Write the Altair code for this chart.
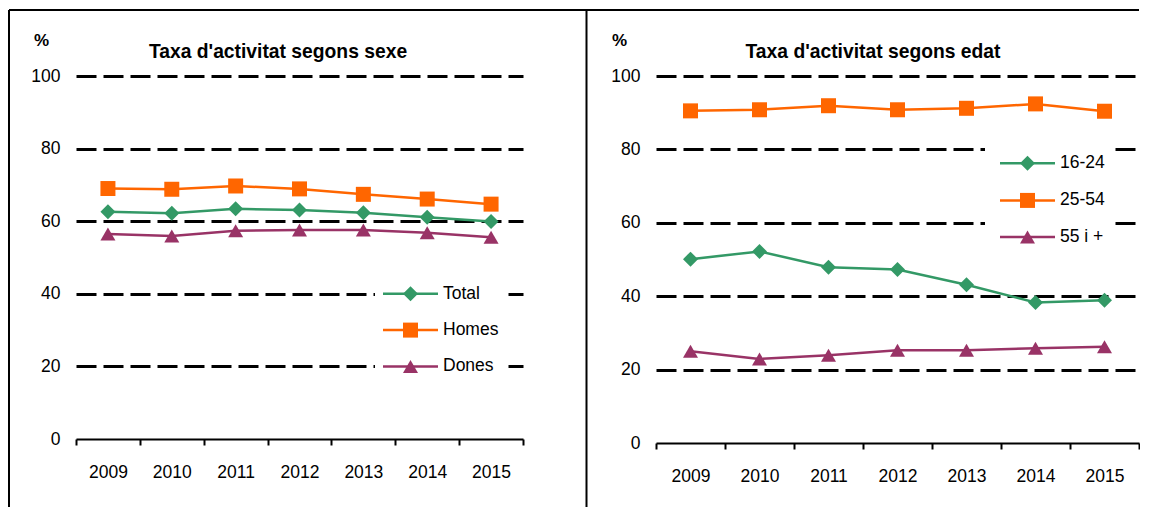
import altair as alt
import pandas as pd

# ---------------- data ----------------
YEARS = ["2009", "2010", "2011", "2012", "2013", "2014", "2015"]
Y_TICKS = [0, 20, 40, 60, 80, 100]

SEX_SERIES = ["Total", "Homes", "Dones"]
SEX_TOTAL = [62.6, 62.2, 63.4, 63.1, 62.3, 61.1, 59.9]
SEX_HOMES = [69.0, 68.8, 69.7, 68.9, 67.4, 66.1, 64.7]
SEX_DONES = [56.5, 55.9, 57.4, 57.6, 57.6, 56.8, 55.6]

AGE_SERIES = ["16-24", "25-54", "55 i +"]
AGE_16_24 = [50.1, 52.2, 47.9, 47.3, 43.1, 38.3, 38.9]
AGE_25_54 = [90.5, 90.8, 91.9, 90.8, 91.2, 92.4, 90.4]
AGE_55 = [25.0, 22.9, 23.9, 25.3, 25.3, 25.8, 26.2]

TITLE_SEX = "Taxa d'activitat segons sexe"
TITLE_AGE = "Taxa d'activitat segons edat"
Y_UNIT = "%"

# ---------------- style ----------------
COLORS = ["#339966", "#FF6600", "#993366"]
SHAPES = ["diamond", "square", "triangle-up"]
FONT = "Liberation Sans, Arial, sans-serif"
LBL = 17.5


def long_df(names, arrays):
    rows = []
    for n, arr in zip(names, arrays):
        for yr, v in zip(YEARS, arr):
            rows.append({"serie": n, "any": yr, "valor": v})
    return pd.DataFrame(rows)


def panel(names, arrays, title, width, height, unit_x, title_x,
          leg_rows, leg_box, leg_x, borders):
    df = long_df(names, arrays)
    cscale = alt.Scale(domain=names, range=COLORS)
    sscale = alt.Scale(domain=names, range=SHAPES)

    x_enc = alt.X(
        "any:O", sort=YEARS,
        scale=alt.Scale(type="band", paddingInner=0, paddingOuter=0),
        axis=alt.Axis(title=None, labelAngle=0, domain=True, domainColor="black",
                      domainWidth=2, ticks=True, tickBand="extent", tickColor="black",
                      tickWidth=2, tickSize=6, labelPadding=18.5, labelFontSize=LBL,
                      labelColor="black", labelFont=FONT, grid=False),
    )
    y_enc = alt.Y(
        "valor:Q",
        scale=alt.Scale(domain=[0, 100], nice=False, zero=True),
        axis=alt.Axis(values=Y_TICKS, title=Y_UNIT, titleAngle=0, titleX=unit_x,
                      titleY=-36, titleFontSize=17, titleFontWeight="bold",
                      titleFont=FONT, titleColor="black", titleAlign="center",
                      titleBaseline="middle", domain=False, ticks=False, tickSize=0,
                      labelPadding=16, labelFontSize=LBL, labelColor="black",
                      labelFont=FONT, grid=True, gridColor="black", gridWidth=3,
                      gridDash=[20, 7],
                      gridOpacity={"condition": {"test": "datum.value === 0", "value": 0},
                                   "value": 1}),
    )

    one = pd.DataFrame({"k": [0]})
    layers = []
    # cell borders
    for b in borders:
        enc = {k: alt.value(v) for k, v in b.items()}
        layers.append(alt.Chart(one).mark_rule(color="black", strokeWidth=2).encode(**enc))

    base = alt.Chart(df)
    lines = base.mark_line(strokeWidth=2.5).encode(
        x=x_enc, y=y_enc,
        color=alt.Color("serie:N", scale=cscale, legend=None),
        detail="serie:N",
    )
    points = base.mark_point(filled=True, opacity=1, size=225, strokeWidth=0).encode(
        x=alt.X("any:O", sort=YEARS),
        y=alt.Y("valor:Q"),
        color=alt.Color("serie:N", scale=cscale, legend=None),
        shape=alt.Shape("serie:N", scale=sscale, legend=None),
    )

    # legend built from the series names
    leg = pd.DataFrame({"serie": names, "ly": leg_rows})
    box = pd.DataFrame({"y1": [leg_box[2]], "y2": [leg_box[3]]})
    box_l = alt.Chart(box).mark_rect(color="white").encode(
        x=alt.value(leg_box[0]), x2=alt.value(leg_box[1]),
        y=alt.Y("y1:Q"), y2="y2:Q")
    lbase = alt.Chart(leg)
    leg_line = lbase.mark_rule(strokeWidth=2.5).encode(
        x=alt.value(leg_x[0]), x2=alt.value(leg_x[1]), y=alt.Y("ly:Q"),
        color=alt.Color("serie:N", scale=cscale, legend=None))
    leg_pt = lbase.mark_point(filled=True, opacity=1, size=225, strokeWidth=0).encode(
        x=alt.value((leg_x[0] + leg_x[1]) / 2), y=alt.Y("ly:Q"),
        color=alt.Color("serie:N", scale=cscale, legend=None),
        shape=alt.Shape("serie:N", scale=sscale, legend=None))
    leg_txt = lbase.mark_text(align="left", baseline="middle", fontSize=LBL,
                              font=FONT, color="black").encode(
        x=alt.value(leg_x[1] + 5), y=alt.Y("ly:Q"), text="serie:N")

    ttl = alt.Chart(pd.DataFrame({"t": [title]})).mark_text(
        align="center", baseline="middle", fontSize=19.3, fontWeight="bold",
        font=FONT, color="black").encode(
        x=alt.value(title_x), y=alt.value(-24), text="t:N")

    layers += [box_l, lines, points, leg_line, leg_pt, leg_txt, ttl]
    return alt.layer(*layers).properties(width=width, height=height)


left = panel(
    SEX_SERIES, [SEX_TOTAL, SEX_HOMES, SEX_DONES], TITLE_SEX,
    width=447, height=363, unit_x=-35, title_x=202,
    leg_rows=[40, 30, 20], leg_box=[299, 429, 45, 15], leg_x=[307, 362],
    borders=[
        {"x": -67, "y": -66, "y2": 431},
        {"x": -67, "x2": 510.5, "y": -66},
        {"x": 510.5, "y": -66, "y2": 431},
    ],
)

right = panel(
    AGE_SERIES, [AGE_16_24, AGE_25_54, AGE_55], TITLE_AGE,
    width=483, height=367, unit_x=-37, title_x=217,
    leg_rows=[76.2, 66.1, 56.1], leg_box=[329, 459, 81.8, 51], leg_x=[344, 399],
    borders=[
        {"x": -70, "x2": 483, "y": -66},
    ],
)

chart = alt.hconcat(left, right, spacing=133, bounds="flush").properties(
    padding={"left": 0, "top": 1, "right": 0, "bottom": 0}
).configure_view(stroke=None)

chart.save("out.html", embed_options={"renderer": "svg", "actions": False})
